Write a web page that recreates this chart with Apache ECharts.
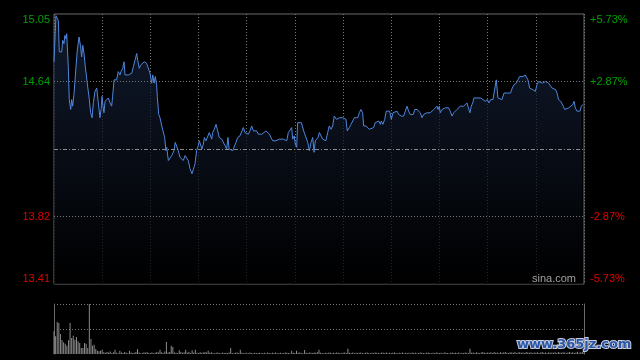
<!DOCTYPE html>
<html><head><meta charset="utf-8">
<script src="https://cdn.jsdelivr.net/npm/echarts@6/dist/echarts.min.js"></script>
<style>html,body{margin:0;padding:0;background:#000;}#c{width:640px;height:360px;}</style>
</head><body><div id="c"></div>
<script>
// ---- data ----
const prevClose = 14.23;
const priceMin = 13.41, priceMax = 15.05;
const priceTicks = [13.41, 13.82, 14.64, 15.05];
const pctLabels = ['-5.73%', '-2.87%', '+2.87%', '+5.73%'];
const minutes = [0,1.2,2.7,3.3,4.8,5.4,6.2,6.8,7.5,7.9,8.9,9.5,10.4,11.0,11.6,12.5,13.7,14.5,15.6,16.6,17.2,17.9,18.7,19.5,20.7,22.0,22.8,23.7,24.5,25.5,26.6,27.6,28.6,29.3,29.9,30.5,31.1,31.8,32.8,33.8,34.9,35.9,36.5,37.4,38.0,39.0,40.0,41.1,41.7,42.8,43.6,44.2,45.3,46.3,47.3,48.4,49.4,50.4,51.5,52.1,53.1,54.0,55.2,56.2,57.7,58.7,59.8,60.8,61.5,62.3,63.1,63.9,64.3,65.2,66.0,67.1,68.1,68.9,69.7,70.2,71.2,72.2,73.3,74.7,75.5,76.4,77.4,78.4,79.5,80.5,81.6,82.6,83.6,84.7,85.9,86.7,87.8,88.8,89.8,90.5,91.3,92.1,93.0,93.6,94.6,95.4,96.7,97.6,98.2,98.8,99.8,100.9,101.7,102.9,104.4,105.4,106.5,107.5,108.3,109.0,110.0,111.3,112.1,113.3,114.4,115.8,116.9,117.9,118.9,120.0,121.0,122.0,123.1,124.1,125.1,126.2,127.2,128.3,129.3,130.7,132.0,133.1,134.1,135.1,136.2,137.2,138.2,139.3,140.3,141.3,142.8,143.8,144.9,145.9,146.9,148.0,148.6,149.6,150.2,151.1,151.7,152.7,154.0,154.8,155.8,156.9,158.0,159.0,160.0,161.1,161.9,162.7,163.6,164.4,165.2,166.2,167.3,168.3,169.3,170.4,171.4,172.5,173.5,174.5,175.1,176.0,176.8,177.6,178.7,179.7,180.7,181.8,182.6,183.9,184.9,186.0,187.0,188.0,189.1,190.1,191.1,192.2,192.8,194.3,195.3,196.3,197.4,199.0,200.0,201.1,202.2,203.2,203.8,204.8,205.9,206.9,208.0,209.0,210.0,211.1,212.1,213.6,214.6,216.2,217.7,218.7,219.8,220.8,221.8,222.9,223.7,224.6,226.0,227.1,228.1,229.1,230.2,231.2,232.2,233.3,234.3,235.3,236.4,237.4,238.5,239.1,239.9,240.5,241.6,242.6,243.6,244.7,245.7,246.7,247.8,248.9,249.9,250.9,252.0,253.0,254.0,255.1,256.1,257.1,258.2,259.0,259.8,260.7,261.5,262.7,264.0,265.7,267.1,268.5,269.8,270.8,271.9,273.3,274.4,275.4,276.4,277.5,278.9,280.2,281.0,282.2,283.3,284.3,285.3,286.4,287.8,288.9,289.9,292.0,293.4,294.3,295.1,296.2,297.2,298.2,299.7,300.7,301.8,303.0,304.0,305.1,306.1,306.9,308.0,309.2,310.1,311.3,312.4,313.2,314.2,315.5,316.3,317.1,318.0,319.0,320.5,321.7,323.0,323.8,324.6,325.6,326.7,327.5,328.3,329.4];
const prices = [14.76,15.04,15.01,14.82,14.82,14.89,14.87,14.92,14.90,14.93,14.73,14.53,14.47,14.53,14.49,14.57,14.73,14.83,14.91,14.85,14.79,14.86,14.81,14.73,14.63,14.53,14.45,14.42,14.51,14.58,14.60,14.51,14.42,14.47,14.55,14.49,14.45,14.52,14.53,14.54,14.51,14.49,14.55,14.65,14.66,14.65,14.70,14.68,14.70,14.72,14.76,14.68,14.69,14.68,14.69,14.69,14.73,14.74,14.81,14.77,14.72,14.74,14.75,14.76,14.75,14.74,14.69,14.63,14.68,14.63,14.67,14.62,14.55,14.44,14.42,14.37,14.38,14.30,14.22,14.24,14.16,14.16,14.19,14.22,14.27,14.27,14.22,14.18,14.19,14.16,14.19,14.18,14.16,14.11,14.08,14.09,14.14,14.22,14.25,14.28,14.27,14.23,14.26,14.30,14.28,14.29,14.33,14.32,14.29,14.33,14.35,14.38,14.35,14.30,14.29,14.28,14.25,14.23,14.30,14.23,14.22,14.22,14.21,14.27,14.30,14.31,14.31,14.36,14.33,14.34,14.32,14.34,14.37,14.34,14.33,14.34,14.32,14.31,14.32,14.33,14.34,14.33,14.32,14.30,14.28,14.29,14.28,14.28,14.29,14.29,14.29,14.30,14.28,14.33,14.32,14.36,14.29,14.31,14.26,14.24,14.39,14.40,14.39,14.39,14.33,14.32,14.27,14.22,14.27,14.30,14.21,14.28,14.27,14.30,14.33,14.32,14.29,14.28,14.28,14.33,14.37,14.35,14.37,14.43,14.44,14.41,14.40,14.42,14.43,14.42,14.43,14.41,14.34,14.36,14.38,14.40,14.42,14.42,14.42,14.45,14.47,14.45,14.37,14.37,14.38,14.35,14.34,14.36,14.39,14.38,14.40,14.38,14.40,14.38,14.41,14.46,14.47,14.46,14.41,14.45,14.46,14.46,14.44,14.43,14.43,14.44,14.49,14.46,14.44,14.45,14.44,14.47,14.47,14.46,14.45,14.42,14.44,14.43,14.45,14.46,14.45,14.46,14.47,14.48,14.49,14.47,14.49,14.45,14.47,14.46,14.48,14.49,14.48,14.46,14.43,14.45,14.46,14.47,14.47,14.49,14.48,14.49,14.50,14.51,14.52,14.45,14.49,14.51,14.54,14.54,14.54,14.54,14.53,14.52,14.53,14.51,14.53,14.53,14.54,14.65,14.54,14.53,14.53,14.57,14.56,14.57,14.58,14.57,14.60,14.62,14.63,14.65,14.67,14.67,14.68,14.67,14.65,14.60,14.59,14.59,14.58,14.62,14.64,14.65,14.63,14.63,14.64,14.65,14.63,14.62,14.60,14.59,14.59,14.57,14.53,14.52,14.53,14.49,14.47,14.48,14.48,14.48,14.50,14.52,14.48,14.46,14.47,14.46,14.49,14.50];
// volume per minute (relative units), minute 0..330
const volumes = [
227,177,320,310,200,140,117,103,83,137,
310,160,183,143,170,127,110,60,60,110,
103,60,500,150,83,93,50,33,27,33,
43,17,12,20,15,25,10,18,43,12,
8,33,15,10,20,12,8,33,15,10,
12,20,50,14,8,10,18,12,20,9,
10,15,8,12,20,14,43,18,10,25,
120,15,20,83,70,15,12,10,37,20,
12,18,43,15,22,10,37,14,43,12,
10,18,12,15,20,14,33,12,18,10,
8,12,15,10,8,14,10,12,9,15,
60,10,8,12,15,10,43,12,8,10,
12,8,15,10,8,12,10,9,12,8,
10,12,8,15,10,8,12,10,14,8,
10,12,8,10,15,12,10,8,33,12,
10,33,12,15,10,8,40,12,10,15,
12,10,15,12,18,43,12,10,8,12,
10,12,15,8,12,10,15,12,10,8,
12,15,10,53,12,10,15,8,12,10,
12,15,10,8,12,14,10,8,12,10,
15,12,10,8,14,12,10,15,8,12,
10,12,15,10,8,12,10,14,8,12,
10,12,8,15,10,12,8,10,14,12,
10,8,12,15,10,8,12,10,15,12,
10,12,8,15,12,10,8,12,14,10,
12,10,15,8,12,10,14,12,10,53,
12,15,10,18,12,10,15,20,12,10,
15,12,18,10,20,12,15,10,18,12,
15,20,12,10,18,15,12,20,10,15,
18,12,15,10,20,14,12,18,10,15,
12,18,10,15,20,12,14,10,18,12,
15,12,18,10,20,15,12,18,14,10,
15,20,12,18,10,15,22,12,18,20,
15];
const sessionMinutes = 330;

// ---- chart ----
const priceData = minutes.map((m, i) => [m, prices[i]]);
const volData = volumes.map((v, i) => [i, v]);
const volMax = Math.max.apply(null, volumes);
const FONT = '"Liberation Sans", Arial, sans-serif';
const UP = '#00a000', DOWN = '#e00000';
const dotted = {color: '#777', width: 1, type: [1, 2]};

const chart = echarts.init(document.getElementById('c'), null, {renderer: 'canvas'});
chart.setOption({
  backgroundColor: '#000',
  animation: false,
  grid: [
    {left: 54, top: 14, width: 530, height: 270, show: true, borderColor: '#6a6a6a', borderWidth: 1, backgroundColor: 'transparent'},
    {left: 54, top: 304, width: 530, height: 50}
  ],
  xAxis: [
    {type: 'value', gridIndex: 0, min: 0, max: sessionMinutes, interval: 30,
     axisLine: {show: false}, axisTick: {show: false}, axisLabel: {show: false},
     splitLine: {show: true, lineStyle: dotted}},
    {type: 'value', gridIndex: 1, min: 0, max: sessionMinutes,
     axisLine: {show: false}, axisTick: {show: false}, axisLabel: {show: false}, splitLine: {show: false}}
  ],
  yAxis: [
    {type: 'value', gridIndex: 0, position: 'left', min: priceMin, max: priceMax,
     axisLine: {show: false}, axisTick: {show: false}, splitLine: {show: false},
     axisLabel: {customValues: priceTicks, margin: 4, fontSize: 11, fontFamily: FONT,
       formatter: v => Number(v).toFixed(2),
       color: v => (parseFloat(v) > prevClose ? UP : DOWN),
       verticalAlignMinLabel: 'bottom', verticalAlignMaxLabel: 'top'}},
    {type: 'value', gridIndex: 0, position: 'right', min: priceMin, max: priceMax,
     axisLine: {show: false}, axisTick: {show: false}, splitLine: {show: false},
     axisLabel: {customValues: priceTicks, margin: 6, fontSize: 11, fontFamily: FONT,
       formatter: v => { const i = priceTicks.findIndex(t => Math.abs(t - v) < 1e-6); return i >= 0 ? pctLabels[i] : ''; },
       color: v => (parseFloat(v) > prevClose ? UP : DOWN),
       verticalAlignMinLabel: 'bottom', verticalAlignMaxLabel: 'top'}},
    {type: 'value', gridIndex: 1, position: 'left', min: 0, max: volMax, interval: volMax / 2,
     axisLine: {show: true, lineStyle: {color: '#6a6a6a'}}, axisTick: {show: false}, axisLabel: {show: false},
     splitLine: {show: true, showMinLine: false, lineStyle: dotted}},
    {type: 'value', gridIndex: 1, position: 'right', min: 0, max: volMax,
     axisLine: {show: true, lineStyle: {color: '#6a6a6a'}}, axisTick: {show: false}, axisLabel: {show: false},
     splitLine: {show: false}}
  ],
  series: [
    {type: 'line', xAxisIndex: 0, yAxisIndex: 0, data: priceData, showSymbol: false, symbol: 'none',
     lineStyle: {color: '#4f86dc', width: 1}, z: 3,
     areaStyle: {origin: 'start', color: new echarts.graphic.LinearGradient(0, 0, 0, 1, [
       {offset: 0, color: '#17243f'}, {offset: 1, color: '#000000'}])},
     markLine: {silent: true, symbol: 'none', label: {show: false},
       data: [
         {yAxis: priceTicks[2], lineStyle: dotted},
         {yAxis: priceTicks[1], lineStyle: dotted},
         {yAxis: prevClose, lineStyle: {color: '#8a8a8a', width: 1, type: [4, 2, 1, 2]}}
       ]}},
    {type: 'bar', xAxisIndex: 1, yAxisIndex: 2, data: volData, barWidth: 1,
     itemStyle: {color: '#8a8a8a'}}
  ],
  graphic: [
    {type: 'text', left: 532, top: 273, z: 10,
     style: {text: 'sina.com', fill: '#a0a0a0', font: '11px ' + FONT}},
    {type: 'text', left: 516, top: 337, z: 10,
     style: {text: 'www.365jz.com', fill: '#2a58a8', stroke: '#c8cce0', lineWidth: 2, font: 'bold 13px "DejaVu Sans", sans-serif'}}
  ]
});
</script></body></html>
